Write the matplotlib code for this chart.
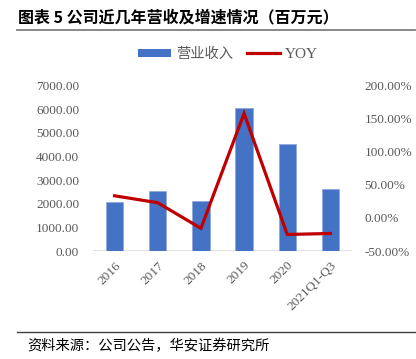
import matplotlib
matplotlib.use("Agg")
import matplotlib.pyplot as plt
from matplotlib.ticker import FuncFormatter
from matplotlib.patches import Patch
from matplotlib.lines import Line2D

categories = ["2016", "2017", "2018", "2019", "2020", "2021Q1-Q3"]
revenue = [2090, 2560, 2130, 6040, 4530, 2630]
yoy = [33.5, 23.0, -15.7, 158.0, -25.0, -23.5]
left_ticks = [0, 1000, 2000, 3000, 4000, 5000, 6000, 7000]
right_ticks = [-50, 0, 50, 100, 150, 200]

cjk = ["Noto Sans CJK SC", "DejaVu Sans"]
serif = ["Liberation Serif", "DejaVu Serif"]
gray = "#595959"

fig = plt.figure(figsize=(4.16, 3.59), dpi=100)
W, H = 416, 359
ax = fig.add_axes([93 / W, 1 - 251 / H, (352 - 93) / W, (251 - 85.7) / H])
ax2 = ax.twinx()

x = list(range(len(categories)))
ax.bar(x, revenue, width=0.4, color="#4472C4", edgecolor="#8FAADC", linewidth=0.6, zorder=2)
ax.set_xlim(-0.5, len(categories) - 0.5)
ax.set_ylim(0, 7000)
ax.set_yticks(left_ticks)
ax.yaxis.set_major_formatter(FuncFormatter(lambda v, p: f"{v:.2f}"))

ax2.plot(x, yoy, color="#C00000", linewidth=2.3, zorder=3, solid_joinstyle="miter")
ax2.set_ylim(-50, 200)
ax2.set_yticks(right_ticks)
ax2.yaxis.set_major_formatter(FuncFormatter(lambda v, p: f"{v:.2f}%"))

for a in (ax, ax2):
    for s in a.spines.values():
        s.set_visible(False)
    a.tick_params(length=0, colors=gray, labelsize=9.5)
    for lab in a.get_yticklabels():
        lab.set_fontfamily(serif)
ax.tick_params(axis="y", pad=10)
ax2.tick_params(axis="y", pad=9)
ax.axhline(0, color="#D9D9D9", linewidth=1.2, zorder=1)

ax.set_xticks(x)
ax.set_xticklabels(categories, rotation=45, ha="right", rotation_mode="anchor",
                   fontfamily=serif, fontsize=9.5, color=gray)
ax.tick_params(axis="x", pad=6)

# Title
fig.text(18 / W, 1 - 17 / H, "图表 5 公司近几年营收及增速情况（百万元）", fontfamily=cjk,
         fontsize=11.5, fontweight="bold", color="#000000", va="center", ha="left")
fig.add_artist(Line2D([17 / W, 415 / W], [1 - 30 / H, 1 - 30 / H], color="#7F7F7F", linewidth=1.3))

# Legend
handles = [Patch(facecolor="#4472C4", edgecolor="none"),
           Line2D([0], [0], color="#C00000", linewidth=2.3)]
leg = fig.legend(handles, ["营业收入", "YOY"], loc="center", bbox_to_anchor=(228 / W, 1 - 54 / H),
                 ncol=2, frameon=False, prop={"family": cjk, "size": 10.3},
                 handlelength=2.3, handleheight=0.5, columnspacing=1.0, handletextpad=0.35)
for t in leg.get_texts():
    t.set_color(gray)
leg.get_texts()[1].set_fontfamily(serif)
leg.get_texts()[1].set_fontsize(11)

# Source
fig.add_artist(Line2D([17 / W, 415 / W], [1 - 332 / H, 1 - 332 / H], color="#404040", linewidth=1.0))
fig.text(27 / W, 1 - 346 / H, "资料来源：公司公告，华安证券研究所", fontfamily=cjk,
         fontsize=10.3, color="#000000", va="center", ha="left")

fig.savefig("out.png", dpi=100)
